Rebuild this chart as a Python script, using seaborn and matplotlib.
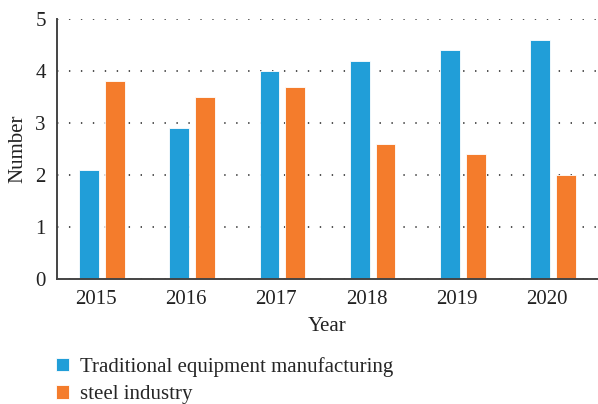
import matplotlib
matplotlib.use("Agg")
import matplotlib.pyplot as plt
import matplotlib.transforms as mtransforms
import seaborn as sns
import pandas as pd

years = ["2015", "2016", "2017", "2018", "2019", "2020"]
traditional = [2.1, 2.9, 4.0, 4.2, 4.4, 4.6]
steel = [3.8, 3.5, 3.7, 2.6, 2.4, 2.0]
series_names = ["Traditional equipment manufacturing", "steel industry"]
colors = ["#219ED8", "#F47C2C"]

df = pd.DataFrame({
    "Year": years * 2,
    "Number": traditional + steel,
    "Series": [series_names[0]] * len(years) + [series_names[1]] * len(years),
})

sns.set_style("white")
plt.rcParams["font.family"] = ["Liberation Serif", "DejaVu Serif"]
plt.rcParams["lines.scale_dashes"] = False

fig = plt.figure(figsize=(5.98, 4.04), dpi=100)
ax = fig.add_axes([57 / 598, 1 - 279 / 404, 1 - 57 / 598, 260 / 404])

sns.barplot(data=df, x="Year", y="Number", hue="Series", palette=colors,
            width=0.574, gap=0.23, ax=ax, edgecolor="#ffffff", linewidth=0.6,
            saturation=1)

ax.set_xlim(-0.5, 5.5)
ax.set_ylim(0, 5)
ax.set_yticks([0, 1, 2, 3, 4, 5])
ax.set_axisbelow(True)
ax.yaxis.grid(True, color="#333333", linestyle=(0, (1, 7.6)), linewidth=1.2)
ax.xaxis.grid(False)

for s in ["top", "right"]:
    ax.spines[s].set_visible(False)
for s in ["left", "bottom"]:
    ax.spines[s].set_color("#444444")
    ax.spines[s].set_linewidth(1.4)

ax.tick_params(axis="both", length=0, labelsize=15, colors="#222222", pad=8)
ax.set_xlabel("Year", fontsize=15, color="#222222", labelpad=6)
ax.set_ylabel("Number", fontsize=15, color="#222222", labelpad=6)

shift = mtransforms.ScaledTranslation(-6 / 100, 0, fig.dpi_scale_trans)
for lbl in ax.get_xticklabels():
    lbl.set_transform(lbl.get_transform() + shift)

handles, labels = ax.get_legend_handles_labels()
ax.legend(handles, labels, loc="upper left", bbox_to_anchor=(56 / 598, 1 - 357 / 404),
          bbox_transform=fig.transFigure, frameon=False, fontsize=15,
          handlelength=0.6, handleheight=0.6, handletextpad=0.55,
          labelspacing=0.4, borderaxespad=0, borderpad=0)

fig.savefig("out.png", dpi=100)
